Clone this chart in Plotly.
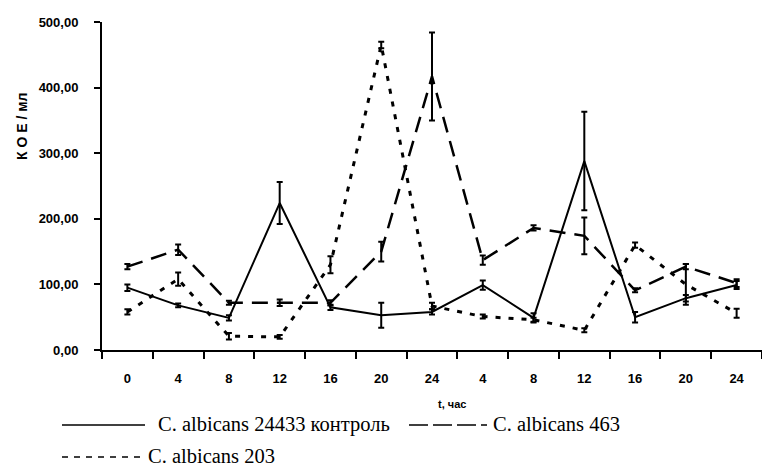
import plotly.graph_objects as go

# ---- data ----
tick_labels = ["0", "4", "8", "12", "16", "20", "24", "4", "8", "12", "16", "20", "24"]
x_pos = list(range(len(tick_labels)))

control_24433 = [95, 68, 49, 224, 65, 53, 58, 99, 49, 288, 50, 79, 99]
control_24433_err = [5, 3, 4, 32, 4, 19, 4, 7, 7, 75, 8, 5, 6]

c463 = [127, 153, 72, 72, 72, 150, 417, 137, 186, 174, 91, 127, 102]
c463_err = [4, 8, 3, 5, 4, 15, 67, 7, 4, 28, 3, 4, 6]

c203 = [58, 108, 21, 20, 130, 465, 67, 51, 46, 30, 160, 100, 56]
c203_err = [4, 10, 5, 3, 13, 5, 5, 3, 3, 3, 4, 31, 7]

y_ticks = [0, 100, 200, 300, 400, 500]

series_names = ["C. albicans 24433 контроль", "C. albicans 463", "C. albicans 203"]

# ---- layout geometry ----
W, H = 762, 467
L, R, T, B = 102, 0, 22, 117
PW, PH = W - L - R, H - T - B


def px_x(px):
    return (px - L) / PW


def px_y(py):
    return (H - B - py) / PH


fig = go.Figure()

styles = [
    dict(width=2, dash="solid"),
    dict(width=2.5, dash="16px,9px"),
    dict(width=3, dash="5px,8px"),
]
data = [(control_24433, control_24433_err), (c463, c463_err), (c203, c203_err)]

for (vals, errs), st, name in zip(data, styles, series_names):
    fig.add_trace(go.Scatter(
        x=x_pos, y=vals, name=name, mode="lines",
        line=dict(color="black", width=st["width"], dash=st["dash"]),
        error_y=dict(type="data", array=errs, visible=True, color="black",
                     thickness=2, width=3),
        showlegend=False,
    ))

fig.update_layout(
    width=W, height=H,
    margin=dict(l=L, r=R, t=T, b=B, pad=0),
    paper_bgcolor="white", plot_bgcolor="white",
    separators=", ",
    font=dict(family="Arial, Liberation Sans", color="black"),
)

fig.update_xaxes(
    range=[-0.5, len(tick_labels) - 0.5],
    tickmode="array", tickvals=x_pos, ticktext=tick_labels,
    ticks="", ticklabelstandoff=15,
    tickfont=dict(family="Arial, Liberation Sans", size=13, color="black", weight="bold"),
    showline=True, linecolor="black", linewidth=2,
    showgrid=False, zeroline=False,
    minor=dict(tickmode="array", tickvals=[v - 0.5 for v in x_pos] + [len(x_pos) - 0.5],
               ticks="outside", ticklen=7, tickwidth=2, tickcolor="black", showgrid=False),
)

fig.update_yaxes(
    range=[0, 500],
    tickmode="array", tickvals=y_ticks, tickformat=".2f",
    ticks="outside", ticklen=6, tickwidth=2, tickcolor="black",
    ticklabelstandoff=13,
    tickfont=dict(family="Arial, Liberation Sans", size=13, color="black", weight="bold"),
    showline=True, linecolor="black", linewidth=2,
    showgrid=False, zeroline=False,
)

# axis titles
fig.add_annotation(
    text="К О Е / мл", xref="paper", yref="paper",
    x=px_x(22), y=px_y(127), textangle=-90, showarrow=False,
    font=dict(family="Arial, Liberation Sans", size=14, color="black", weight="bold"),
    xanchor="center", yanchor="middle",
)
fig.add_annotation(
    text="t, час", xref="paper", yref="paper",
    x=px_x(452), y=px_y(404), showarrow=False,
    font=dict(family="Arial, Liberation Sans", size=11, color="black", weight="bold"),
    xanchor="center", yanchor="middle",
)

# custom legend
legend_font = dict(family="Liberation Serif, Times New Roman, serif", size=20.5, color="black")
legend_items = [
    (62, 145, 425, 156, series_names[0], "solid", 1.5),
    (409, 487, 425, 491, series_names[1], "19px,5px", 1.5),
    (62, 141, 457, 146, series_names[2], "6px,6px", 1.5),
]
for x0, x1, yy, tx, name, dash, lw in legend_items:
    fig.add_shape(type="line", xref="paper", yref="paper",
                  x0=px_x(x0), x1=px_x(x1), y0=px_y(yy), y1=px_y(yy),
                  line=dict(color="black", width=lw, dash=dash))
    fig.add_annotation(text=name, xref="paper", yref="paper",
                       x=px_x(tx), y=px_y(yy - 1), showarrow=False,
                       xanchor="left", yanchor="middle", font=legend_font)

fig.write_html("out.html", config={"displayModeBar": False},
               post_script="document.body.style.margin='0';")
